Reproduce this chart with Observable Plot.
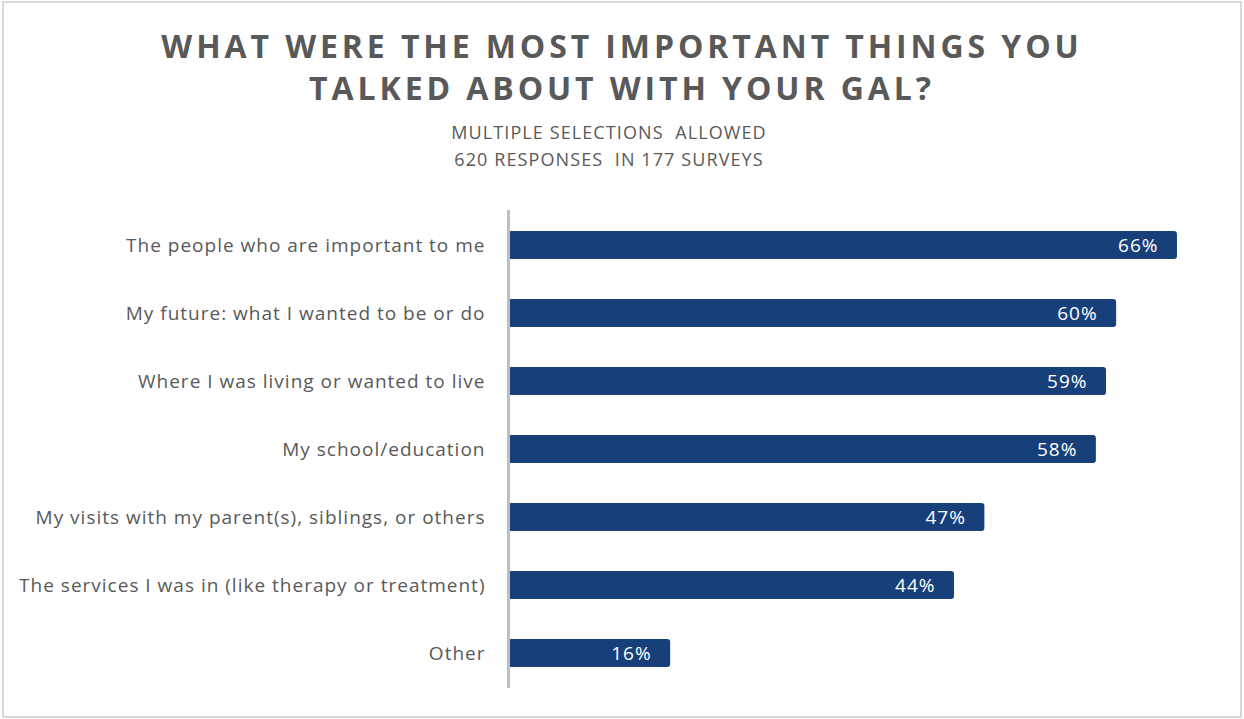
<!DOCTYPE html>
<html>
<head>
<meta charset="utf-8">
<script src="https://cdn.jsdelivr.net/npm/d3@7"></script>
<script src="https://cdn.jsdelivr.net/npm/@observablehq/plot@0.6"></script>
<style>
  html, body { margin: 0; padding: 0; background: #fff; }
  #frame { position: absolute; left: 2px; top: 1px; width: 1236px; height: 713px; border: 2px solid #D9D9D9; }
  .title { position: absolute; left: 0; width: 1244px; text-align: center; font-family: "Open Sans", sans-serif; font-weight: 700; font-size: 32px; letter-spacing: 3.9px; color: #595959; }
  .sub { position: absolute; left: -13px; width: 1244px; text-align: center; font-family: "Open Sans", sans-serif; font-size: 18px; letter-spacing: 1.1px; color: #595959; white-space: pre; }
  #chart { position: absolute; left: 0; top: 200px; }
  #chart text { letter-spacing: 1px; }
</style>
</head>
<body>
<div id="frame"></div>
<div class="title" style="top:24px">WHAT WERE THE MOST IMPORTANT THINGS YOU</div>
<div class="title" style="top:66px">TALKED ABOUT WITH YOUR GAL?</div>
<div class="sub" style="top:120px">MULTIPLE SELECTIONS  ALLOWED</div>
<div class="sub" style="top:147px">620 RESPONSES  IN 177 SURVEYS</div>
<div id="chart"></div>
<script>
const categories = [
  "The people who are important to me",
  "My future: what I wanted to be or do",
  "Where I was living or wanted to live",
  "My school/education",
  "My visits with my parent(s), siblings, or others",
  "The services I was in (like therapy or treatment)",
  "Other"
];
const values = [0.66, 0.60, 0.59, 0.58, 0.47, 0.44, 0.16];
const valueLabels = ["66%", "60%", "59%", "58%", "47%", "44%", "16%"];

const data = categories.map((c, i) => ({category: c, value: values[i], label: valueLabels[i]}));

const chart = Plot.plot({
  width: 1244,
  height: 500,
  marginLeft: 508,
  marginRight: 26.5,
  marginTop: 10,
  marginBottom: 12,
  style: {fontFamily: "Open Sans, sans-serif", background: "transparent"},
  x: {domain: [0, 0.7], axis: null},
  y: {domain: categories, padding: 0, label: null},
  marks: [
    Plot.axisY({tickSize: 0, tickPadding: 23, fontSize: 19, fill: "#595959", label: null}),
    Plot.barX(data, {x: "value", y: "category", fill: "#17407A", insetTop: 20, insetBottom: 20, rx: 3}),
    Plot.text(data, {x: "value", y: "category", text: "label", textAnchor: "end", dx: -19, fill: "#fff", fontSize: 19}),
    Plot.ruleX([0], {stroke: "#BFBFBF", strokeWidth: 3})
  ]
});
document.getElementById("chart").appendChild(chart);
</script>
</body>
</html>
